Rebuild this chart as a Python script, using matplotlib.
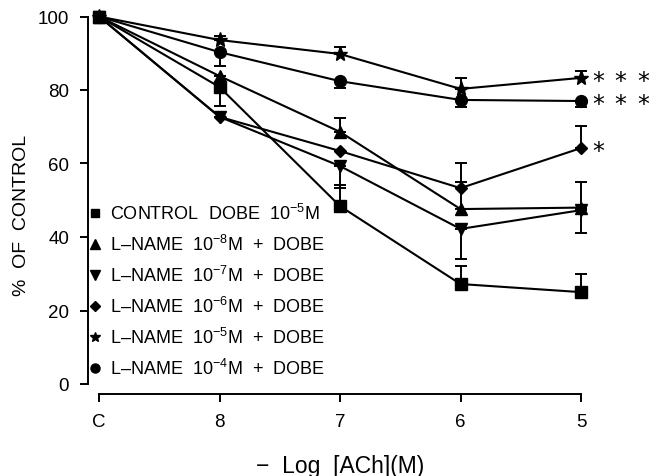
import numpy as np
import matplotlib
matplotlib.use('Agg')
import matplotlib.pyplot as plt

plt.rcParams['font.family'] = ['Liberation Sans', 'DejaVu Sans']
plt.rcParams['mathtext.fontset'] = 'custom'
plt.rcParams['mathtext.rm'] = 'Liberation Sans'
plt.rcParams['mathtext.default'] = 'rm'

# x categories (-log[ACh])
x_labels = ['C', '8', '7', '6', '5']

# % of control; error bars are one-sided (SEM)
control = [100, 80.8, 48.4, 27.2, 25.0]
control_lo = [0, 5.2, 0, 0, 0]
control_hi = [0, 0, 5.8, 4.9, 5.0]

lname8 = [100, 83.8, 68.6, 47.6, 48.0]
lname8_lo = [0, 0, 0, 0, 0]
lname8_hi = [0, 0, 3.8, 7.4, 7.0]

lname7 = [100, 72.7, 59.3, 42.2, 47.3]
lname7_lo = [0, 0, 6.0, 8.2, 6.2]
lname7_hi = [0, 0, 0, 0, 0]

lname6 = [100, 72.7, 63.4, 53.3, 64.2]
lname6_lo = [0, 0, 0, 0, 0]
lname6_hi = [0, 0, 0, 6.8, 6.0]

lname5 = [100, 93.6, 89.8, 80.3, 83.3]
lname5_lo = [0, 0, 0, 0, 0]
lname5_hi = [0, 1.0, 1.9, 3.0, 1.9]

lname4 = [100, 90.3, 82.4, 77.3, 77.0]
lname4_lo = [0, 3.8, 1.9, 1.9, 1.6]
lname4_hi = [0, 0, 0, 0, 0]

labels = ['CONTROL  DOBE  10$^{-5}$M',
          'L\u2013NAME  10$^{-8}$M  +  DOBE',
          'L\u2013NAME  10$^{-7}$M  +  DOBE',
          'L\u2013NAME  10$^{-6}$M  +  DOBE',
          'L\u2013NAME  10$^{-5}$M  +  DOBE',
          'L\u2013NAME  10$^{-4}$M  +  DOBE']

# significance marks at the last point (number of asterisks)
sig_5 = 3
sig_4 = 3
sig_6 = 1

series = [
    (control, control_lo, control_hi, 's', 8.5),
    (lname8, lname8_lo, lname8_hi, '^', 9),
    (lname7, lname7_lo, lname7_hi, 'v', 9),
    (lname6, lname6_lo, lname6_hi, 'D', 6.5),
    (lname5, lname5_lo, lname5_hi, '*', 11),
    (lname4, lname4_lo, lname4_hi, 'o', 8.5),
]
legend_ms = [6, 7, 7, 5, 7.5, 6.5]

fig = plt.figure(figsize=(6.49, 4.77), dpi=100)
ax = fig.add_axes([99/649, 1-385/477, (581-99)/649, (385-17.5)/477])

x = np.arange(len(x_labels))
handles = []
for (vals, lo, hi, mk, ms), lab, lms in zip(series, labels, legend_ms):
    ax.errorbar(x, vals, yerr=[lo, hi], fmt='-', marker=mk, color='black',
                ms=ms, lw=1.5, elinewidth=1.4, capsize=4.5, capthick=1.4,
                clip_on=False, zorder=3)
    h, = ax.plot([], [], ls='none', marker=mk, color='black', ms=lms)
    handles.append(h)

for vals, n in [(lname5, sig_5), (lname4, sig_4), (lname6, sig_6)]:
    for k in range(n):
        ax.annotate('*', xy=(x[-1], vals[-1]), xytext=(12.5 + k*16, -2),
                    textcoords='offset points', ha='center', va='center',
                    fontsize=17, family='DejaVu Sans', annotation_clip=False)

ax.set_xlim(0, 4)
ax.set_ylim(0, 100)
ax.set_xticks(x)
ax.set_xticklabels(x_labels)
ax.set_yticks([0, 20, 40, 60, 80, 100])
for s in ['top', 'right']:
    ax.spines[s].set_visible(False)
ax.spines['left'].set_position(('outward', 8))
ax.spines['bottom'].set_position(('outward', 7.5))
ax.spines['left'].set_linewidth(1.4)
ax.spines['bottom'].set_linewidth(1.4)
ax.tick_params(axis='both', length=5.5, width=1.4, labelsize=13.5, pad=8)

leg = ax.legend(handles, labels, loc='lower left', bbox_to_anchor=(-0.035, -0.003),
                frameon=False, fontsize=13, handlelength=0.6, handletextpad=0.55,
                labelspacing=0.6, borderaxespad=0)

fig.text(22/649, 1-215/477, '%  OF  CONTROL', rotation=90, ha='center',
         va='center', fontsize=14)
fig.text(340/649, 1-467/477, '\u2212  Log  [ACh](M)', ha='center', va='center',
         fontsize=16.5)

fig.savefig('out.png', dpi=100)
